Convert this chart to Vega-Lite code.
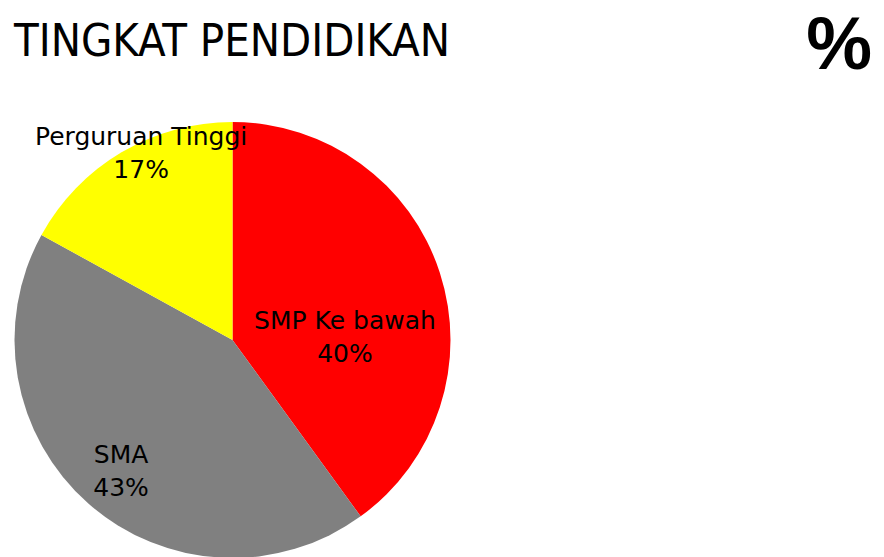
{
  "$schema": "https://vega.github.io/schema/vega-lite/v6.json",
  "padding": {"left": 0, "top": 10, "right": 0, "bottom": 0},
  "spacing": 0,
  "background": "white",
  "config": {"view": {"stroke": null}},
  "hconcat": [
    {
      "title": {"text": "TINGKAT PENDIDIKAN", "anchor": "start", "font": "DejaVu Sans Condensed", "fontSize": 45, "fontWeight": "normal", "color": "black", "dx": 14, "offset": 57},
      "width": 465,
      "height": 436,
      "data": {"values": [
        {"kategori": "SMP Ke bawah", "persen": 40, "label": "SMP Ke bawah\n40%"},
        {"kategori": "SMA", "persen": 43, "label": "SMA\n43%"},
        {"kategori": "Perguruan Tinggi", "persen": 17, "label": "Perguruan Tinggi\n17%"}
      ]},
      "encoding": {
        "theta": {"field": "persen", "type": "quantitative", "stack": true},
        "order": {"field": "kategori", "sort": "descending"}
      },
      "layer": [
        {
          "mark": {"type": "arc", "outerRadius": 218},
          "encoding": {
            "color": {"field": "kategori", "type": "nominal", "legend": null,
              "scale": {"domain": ["SMP Ke bawah", "SMA", "Perguruan Tinggi"], "range": ["#FF0000", "#808080", "#FFFF00"]}}
          }
        },
        {
          "mark": {"type": "text", "radius": 113, "dx": 5, "dy": 16, "font": "DejaVu Sans", "fontSize": 25, "lineHeight": 33, "lineBreak": "\n", "color": "black"},
          "encoding": {"text": {"condition": {"test": "datum.kategori === 'SMP Ke bawah'", "field": "label"}, "value": ""}}
        },
        {
          "mark": {"type": "text", "radius": 173, "dx": 3, "dy": -15, "font": "DejaVu Sans", "fontSize": 25, "lineHeight": 33, "lineBreak": "\n", "color": "black"},
          "encoding": {"text": {"condition": {"test": "datum.kategori === 'SMA'", "field": "label"}, "value": ""}}
        },
        {
          "mark": {"type": "text", "radius": 205, "dx": 13, "dy": -27, "font": "DejaVu Sans", "fontSize": 25, "lineHeight": 33, "lineBreak": "\n", "color": "black"},
          "encoding": {"text": {"condition": {"test": "datum.kategori === 'Perguruan Tinggi'", "field": "label"}, "value": ""}}
        }
      ]
    },
    {
      "title": {"text": "%", "anchor": "end", "font": "Liberation Sans", "fontSize": 74, "fontWeight": "bold", "color": "black", "dx": -12, "offset": 37},
      "width": 419,
      "height": 436,
      "data": {"values": [{"simbol": "%"}]},
      "mark": {"type": "text"},
      "encoding": {"text": {"value": ""}}
    }
  ]
}
